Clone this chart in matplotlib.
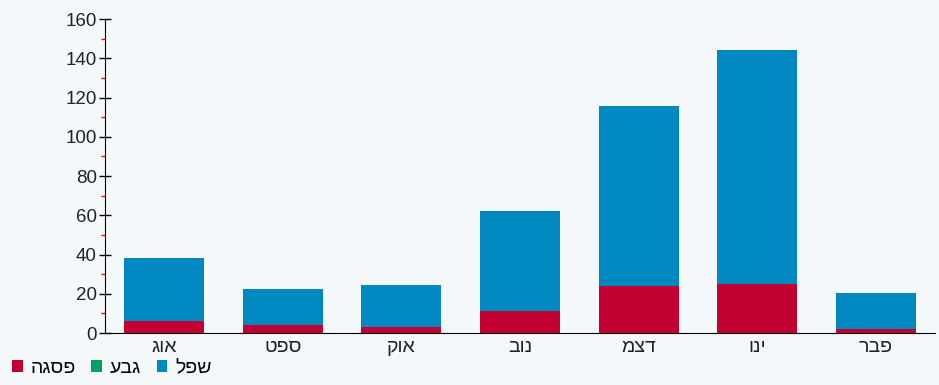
import numpy as np
import matplotlib.pyplot as plt

# Hebrew month labels, written in visual (left-to-right) order
months = ["אוג", "ספט", "אוק", "נוב", "דצמ", "ינו", "פבר"]
series_names = ["פסגה", "גבע", "שפל"]

peak = [6, 4, 3, 11, 24, 25, 2]            # red, bottom
hill = [0, 0, 0, 0, 0, 0, 0]               # green, not visible
low = [32, 18.5, 21.5, 51, 91.5, 119, 18.5]  # blue, on top

colors = ["#c30032", "#00a264", "#0089c1"]


def visual(s):
    # matplotlib has no bidi support, so reverse Hebrew for display
    return s[::-1]


plt.rcParams["font.family"] = ["Liberation Sans", "DejaVu Sans"]

fig = plt.figure(figsize=(9.39, 3.85), dpi=100)
fig.patch.set_facecolor("#f5f8fb")
ax = fig.add_axes([0.1118, 0.135, 0.8839, 0.8156])
ax.set_facecolor("none")

x = np.arange(len(months))
bottom = np.zeros(len(months))
for name, vals, c in zip(series_names, [peak, hill, low], colors):
    ax.bar(x, vals, width=0.675, bottom=bottom, color=c, label=visual(name))
    bottom += np.array(vals)

ax.set_xlim(-0.5, len(months) - 0.5)
ax.set_ylim(0, 160)
ax.set_yticks(np.arange(0, 161, 20))
ax.set_yticks(np.arange(10, 160, 20), minor=True)
ax.set_xticks(x)
ax.set_xticklabels([visual(m) for m in months])

ax.tick_params(axis="y", which="major", direction="inout", length=8, width=1,
               color="black", labelsize=13.5, labelcolor="#222222", pad=2)
ax.tick_params(axis="y", which="minor", direction="out", length=3, width=1,
               color="red")
ax.tick_params(axis="x", length=0, labelsize=14, labelcolor="#222222", pad=4)

for side in ["top", "right"]:
    ax.spines[side].set_visible(False)
ax.spines["left"].set_color("black")
ax.spines["bottom"].set_color("black")

fig.legend(loc="lower left", bbox_to_anchor=(-0.006, -0.025), ncol=3,
           frameon=False, fontsize=14, handlelength=0.55, handleheight=0.55,
           handletextpad=0.4, columnspacing=0.8)

fig.savefig("out.png", dpi=100, facecolor=fig.get_facecolor())
